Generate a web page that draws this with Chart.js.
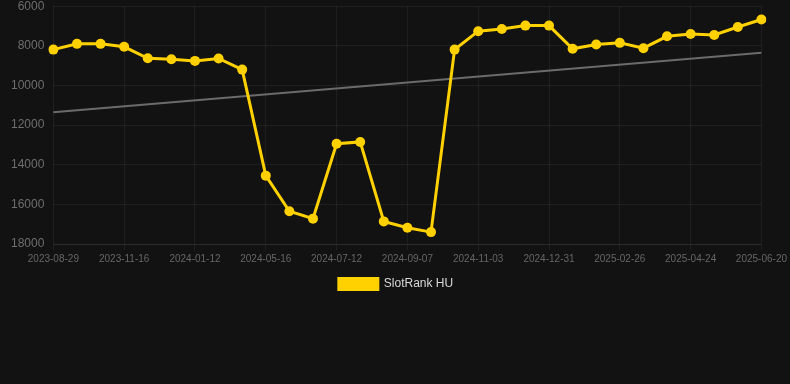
<!DOCTYPE html>
<html>
<head>
<meta charset="utf-8">
<script src="https://cdn.jsdelivr.net/npm/chart.js@4/dist/chart.umd.min.js"></script>
<style>
  html, body { margin: 0; padding: 0; background: #121212; overflow: hidden; }
  #wrap { width: 790px; height: 310px; position: relative; top: -10px; }
</style>
</head>
<body>
<div id="wrap"><canvas id="rankChart"></canvas></div>
<script>
// ===============================
// DATA
// ===============================
const dates = [
  "2023-08-29", "2023-09-24", "2023-10-20",
  "2023-11-16", "2023-12-05", "2023-12-24",
  "2024-01-12", "2024-02-23", "2024-04-04",
  "2024-05-16", "2024-06-04", "2024-06-23",
  "2024-07-12", "2024-07-31", "2024-08-19",
  "2024-09-07", "2024-09-26", "2024-10-15",
  "2024-11-03", "2024-11-22", "2024-12-12",
  "2024-12-31", "2025-01-19", "2025-02-07",
  "2025-02-26", "2025-03-17", "2025-04-05",
  "2025-04-24", "2025-05-13", "2025-06-01",
  "2025-06-20"
];

const rankHU = [
  8190, 7900, 7900, 8050, 8630, 8680, 8760, 8640, 9200,
  14550, 16350, 16720, 12940, 12850, 16860, 17180, 17400,
  8190, 7260, 7150, 6980, 6980, 8150, 7930, 7850, 8120,
  7520, 7400, 7450, 7050, 6670
];

// trend line: only the two end values, gap spanned
const trendStart = 11350;
const trendEnd = 8350;
const trend = dates.map((_, i) =>
  i === 0 ? trendStart : (i === dates.length - 1 ? trendEnd : null)
);

const yTicks = [6000, 8000, 10000, 12000, 14000, 16000, 18000];

// ===============================
// CHART
// ===============================
const shown = i => i % 3 === 0;
const gridCol = "rgba(255,255,255,0.06)";

new Chart(document.getElementById("rankChart"), {
  type: "line",
  data: {
    labels: dates,
    datasets: [
      {
        label: "SlotRank HU",
        data: rankHU,
        borderColor: "#ffd100",
        backgroundColor: "#ffd100",
        borderWidth: 3,
        pointRadius: 5,
        pointBorderWidth: 0,
        tension: 0
      },
      {
        label: "trend",
        data: trend,
        borderColor: "#6b6b6b",
        borderWidth: 2,
        pointRadius: 0,
        spanGaps: true
      }
    ]
  },
  options: {
    responsive: true,
    maintainAspectRatio: false,
    animation: false,
    layout: { padding: { left: 2 } },
    plugins: {
      legend: {
        position: "bottom",
        labels: {
          color: "#d8d8d8",
          font: { family: "Liberation Sans, Arial", size: 12 },
          boxWidth: 39,
          boxHeight: 11,
          filter: item => item.datasetIndex === 0
        }
      },
      tooltip: { enabled: false }
    },
    scales: {
      x: {
        grid: {
          color: ctx => shown(ctx.index) ? gridCol : "rgba(0,0,0,0)",
          tickLength: 6
        },
        border: { color: gridCol },
        ticks: {
          autoSkip: false,
          maxRotation: 0,
          color: "#666",
          font: { family: "Liberation Sans, Arial", size: 10 },
          callback: (v, i) => shown(i) ? dates[i] : ""
        }
      },
      y: {
        reverse: true,
        min: yTicks[0],
        max: yTicks[yTicks.length - 1],
        afterBuildTicks: axis => { axis.ticks = yTicks.map(v => ({ value: v })); },
        grid: { color: gridCol, drawTicks: false },
        border: { display: false },
        ticks: {
          color: "#6e6e6e",
          padding: 9,
          font: { family: "Liberation Sans, Arial", size: 12 },
          callback: v => String(v)
        }
      }
    }
  }
});
</script>
</body>
</html>
